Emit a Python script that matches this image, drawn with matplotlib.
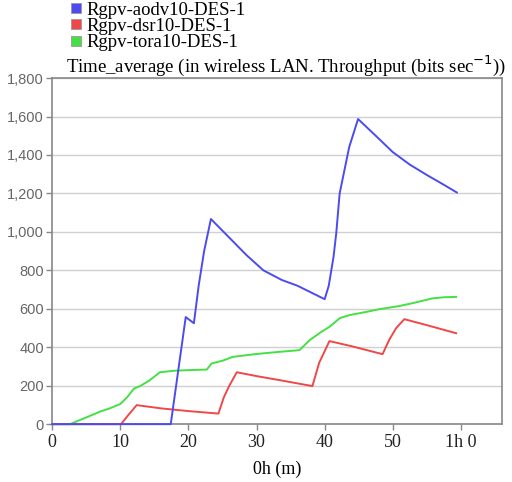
import matplotlib
matplotlib.use("Agg")
import matplotlib.pyplot as plt
import matplotlib.ticker as ticker
from matplotlib.lines import Line2D

# ── data ─────────────────────────────────────────────────────────────────────
aodv_t = [0, 17.4, 19.6, 20.8, 21.5, 22.3, 23.3, 26, 28.5, 31, 33.7, 36, 40.0,
          40.6, 41.3, 41.7, 42.2, 43.6, 44.9, 47.5, 50, 52.5, 55, 57.5, 59.4]
aodv_v = [0, 0, 557, 525, 720, 900, 1067, 970, 880, 800, 750, 720, 650,
          720, 870, 993, 1200, 1441, 1587, 1500, 1415, 1350, 1296, 1245, 1205]

dsr_t = [0, 10.1, 11.0, 12.4, 16, 20, 24.4, 25.2, 26.0, 27.1, 30, 34, 38.2,
         39.2, 40.7, 44, 48.5, 49.5, 50.5, 51.7, 55, 59.3]
dsr_v = [0, 0, 40, 99, 82, 68, 55, 140, 200, 270, 250, 225, 198,
         320, 432, 405, 364, 440, 500, 546, 515, 473]

tora_t = [0, 2.6, 5, 7, 8.5, 10, 11, 12, 13, 14.3, 15.8, 18, 20, 22.7, 23.4,
          25, 26.5, 30, 33, 36.3, 37.8, 39.5, 40.7, 42.2, 43.6, 46, 48, 50.9,
          53, 55.8, 57.5, 59.3]
tora_v = [0, 0, 35, 65, 83, 105, 140, 185, 200, 228, 270, 278, 281, 284, 316,
          330, 350, 365, 375, 385, 437, 480, 506, 551, 567, 583, 598, 614,
          630, 654, 660, 662]

labels = ["Rgpv-aodv10-DES-1", "Rgpv-dsr10-DES-1", "Rgpv-tora10-DES-1"]
colors = ["#4b4bf0", "#f04848", "#44e044"]
xticks = [0, 10, 20, 30, 40, 50, 60]
xtick_labels = ["0", "10", "20", "30", "40", "50", "1h 0"]
yticks = list(range(0, 1801, 200))

SERIF = "Liberation Serif"
SANS = "Liberation Sans"

fig = plt.figure(figsize=(5.12, 4.82), dpi=100)
ax = fig.add_axes([0.102, 0.120, 0.878, 0.718])

# draw order: tora, dsr, aodv (blue on top along the zero line)
series = [(tora_t, tora_v, colors[2]), (dsr_t, dsr_v, colors[1]), (aodv_t, aodv_v, colors[0])]
for z, (t, v, c) in enumerate(series):
    ax.plot(t, v, color=c, lw=1.4, zorder=3 + z, clip_on=False)

ax.set_xlim(0, 66)
ax.set_ylim(0, 1800)
ax.set_xticks(xticks)
ax.set_xticklabels(xtick_labels, family=SERIF, fontsize=13)
ax.set_yticks(yticks)
ax.yaxis.set_major_formatter(ticker.FuncFormatter(lambda v, p: f"{int(v):,}"))
for lab in ax.get_yticklabels():
    lab.set_family(SANS)
    lab.set_fontsize(10.5)
ax.tick_params(axis="both", colors="#888888", length=4, width=1)
ax.tick_params(axis="x", labelcolor="#222222", pad=3)
ax.tick_params(axis="y", labelcolor="#666666", pad=2)
ax.grid(axis="y", color="#d0d0d0", lw=1)
ax.set_axisbelow(True)
for s in ax.spines.values():
    s.set_color("#888888")
    s.set_linewidth(1.2)

ax.set_xlabel("0h (m)", family=SERIF, fontsize=13, labelpad=7)
ax.set_title("Time_average (in wireless LAN. Throughput (bits sec$^{-1}$))",
             family=SERIF, fontsize=13.5, x=0.52, pad=1)

handles = [Line2D([], [], ls="", marker="s", markersize=7, markerfacecolor=c,
                  markeredgecolor="#999999", markeredgewidth=0.6) for c in colors]
fig.legend(handles, labels, loc="upper left", bbox_to_anchor=(0.12, 1.012),
           frameon=False, prop={"family": SERIF, "size": 13.5},
           handlelength=0.8, handletextpad=0.15, labelspacing=-0.05, borderaxespad=0)

fig.savefig("out.png", dpi=100)
